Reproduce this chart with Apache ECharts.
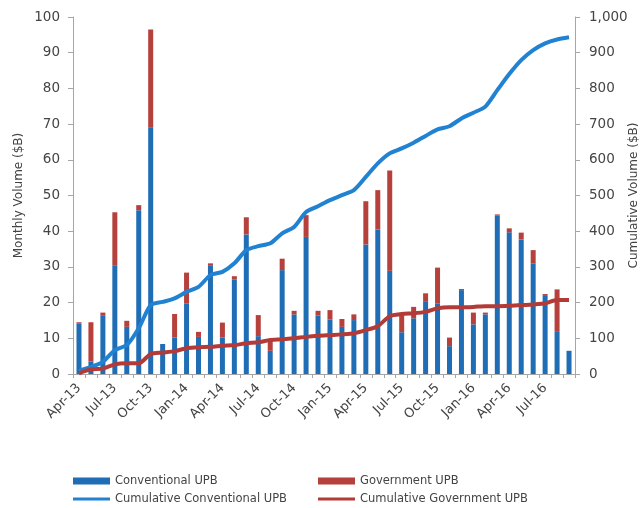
<!DOCTYPE html>
<html><head><meta charset="utf-8">
<script src="https://cdn.jsdelivr.net/npm/echarts@6/dist/echarts.min.js"></script>
<style>html,body{margin:0;padding:0;background:#fff}#c{width:643px;height:508px}</style>
</head><body><div id="c"></div>
<script>
const categories = ["Apr-13","May-13","Jun-13","Jul-13","Aug-13","Sep-13","Oct-13","Nov-13","Dec-13",
"Jan-14","Feb-14","Mar-14","Apr-14","May-14","Jun-14","Jul-14","Aug-14","Sep-14","Oct-14","Nov-14","Dec-14",
"Jan-15","Feb-15","Mar-15","Apr-15","May-15","Jun-15","Jul-15","Aug-15","Sep-15","Oct-15","Nov-15","Dec-15",
"Jan-16","Feb-16","Mar-16","Apr-16","May-16","Jun-16","Jul-16","Aug-16","Sep-16"];
const conventional = [14.2,3.5,16.3,30.3,13.2,45.9,69.1,8.4,10.2,19.8,10.4,30.3,10.2,26.5,39.1,10.6,6.5,29.1,16.7,38.4,16.4,
15.3,13.2,15.1,36.3,40.5,28.9,11.7,15.6,20.4,19.8,7.8,23.5,13.9,16.7,44.5,39.7,37.7,31.0,22.1,11.8,6.5];
const government = [0.3,11.0,0.9,15.0,1.7,1.4,27.4,0,6.6,8.6,1.4,0.7,4.2,0.9,4.8,5.9,3.0,3.2,1.0,6.1,1.3,
2.6,2.2,1.6,12.1,11.0,28.1,4.8,3.2,2.2,10.0,2.4,0.3,3.3,0.5,0.2,1.1,1.9,3.7,0.3,11.9,0];
const cumConventional = [9,20,34,67,81,128,193,202,212,230,244,277,286,310,347,358,366,394,412,454,470,
487,501,515,552,590,618,632,648,667,685,694,716,732,749,795,840,879,907,926,937,943];
const cumGovernment = [2,13,15,27,30,30,56,60,64,72,75,76,79,81,86,89,95,97,100,104,107,
109,111,114,123,134,162,168,170,174,184,187,187,188,190,190,191,193,195,198,207,207];
const leftTicks = {min:0,max:100,interval:10};
const rightTicks = {min:0,max:1000,interval:100};

const txt = '#444444';
const axisCol = '#a6a6a6';
const font = 'DejaVu Sans, Verdana, sans-serif';
const chart = echarts.init(document.getElementById('c'));
const legendBase = {orient:'horizontal', icon:'rect', itemWidth:37, itemGap:5, textStyle:{color:txt,fontSize:11.5,fontFamily:font}, selectedMode:false};
chart.setOption({
  animation:false,
  grid:{left:73,right:68,top:17,bottom:134,containLabel:false,outerBoundsMode:'none'},
  legend:[
    Object.assign({},legendBase,{left:68,top:470,itemHeight:7,data:['Conventional UPB']}),
    Object.assign({},legendBase,{left:313,top:470,itemHeight:7,data:['Government UPB']}),
    Object.assign({},legendBase,{left:68,top:488,itemHeight:3,data:['Cumulative Conventional UPB']}),
    Object.assign({},legendBase,{left:313,top:488,itemHeight:3,data:['Cumulative Government UPB']})
  ],
  xAxis:{type:'category',data:categories,boundaryGap:true,
    axisLine:{lineStyle:{color:axisCol,width:1}},
    axisTick:{show:true,interval:0,length:4,lineStyle:{color:axisCol}},
    axisLabel:{interval:2,rotate:45,color:txt,fontSize:13,fontFamily:font,margin:12},
    splitLine:{show:false}},
  yAxis:[
    {type:'value',min:leftTicks.min,max:leftTicks.max,interval:leftTicks.interval,name:'Monthly Volume ($B)',
     nameLocation:'middle',nameGap:48,nameMoveOverlap:false,nameTextStyle:{color:txt,fontSize:12,fontFamily:font},
     axisLine:{show:true,lineStyle:{color:axisCol}},axisTick:{show:true,length:5,lineStyle:{color:axisCol}},
     axisLabel:{color:txt,fontSize:13.5,fontFamily:font,margin:13},splitLine:{show:false}},
    {type:'value',min:rightTicks.min,max:rightTicks.max,interval:rightTicks.interval,name:'Cumulative Volume ($B)',
     nameLocation:'middle',nameGap:53,nameMoveOverlap:false,nameTextStyle:{color:txt,fontSize:12,fontFamily:font},
     axisLine:{show:true,lineStyle:{color:axisCol}},axisTick:{show:true,length:5,lineStyle:{color:axisCol}},
     axisLabel:{color:txt,fontSize:13.5,fontFamily:font,margin:14,formatter:v=>v.toLocaleString('en-US')},splitLine:{show:false}}
  ],
  series:[
    {name:'Conventional UPB',type:'bar',stack:'m',data:conventional,barWidth:5,itemStyle:{color:'#1f6db5'}},
    {name:'Government UPB',type:'bar',stack:'m',data:government,barWidth:5,itemStyle:{color:'#b5403c'}},
    {name:'Cumulative Conventional UPB',type:'line',yAxisIndex:1,data:cumConventional,symbol:'none',smooth:0.25,
     lineStyle:{color:'#2282d2',width:4},itemStyle:{color:'#2282d2'},z:5},
    {name:'Cumulative Government UPB',type:'line',yAxisIndex:1,data:cumGovernment,symbol:'none',smooth:0.25,
     lineStyle:{color:'#b33a36',width:4},itemStyle:{color:'#b33a36'},z:6}
  ]
});
</script></body></html>
